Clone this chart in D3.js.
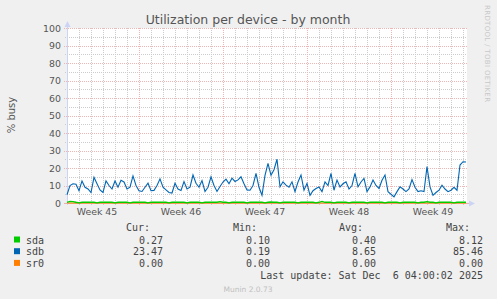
<!DOCTYPE html>
<html>
<head>
<meta charset="utf-8">
<script src="https://cdn.jsdelivr.net/npm/d3@7"></script>
<style>
  body { margin: 0; background: #f0f0f0; }
  svg { display: block; }
</style>
</head>
<body>
<svg width="497" height="299"></svg>
<script>
// samples every 6 hours, from the start of the month window
var stepHours = 6;
var spanHours = 800;

var sda = [
  0.4,0.9,0.8,0.4,0.1,0.4,0.4,0.4,0.4,0.4,
  0.1,0.4,0.4,0.4,0.4,0.4,0.1,0.4,0.4,0.4,
  0.4,0.1,0.4,0.4,0.4,0.4,0.4,0.1,0.4,0.4,
  0.4,0.4,0.4,0.4,0.1,0.4,0.4,0.4,0.4,0.4,
  0.1,0.4,0.4,0.4,0.4,0.1,0.4,0.4,0.4,0.4,
  0.4,0.8,0.4,0.4,0.1,0.4,0.4,0.4,0.4,0.4,
  0.1,0.4,0.4,0.4,0.4,0.4,0.1,0.4,0.6,0.4,
  0.4,0.1,0.4,0.4,0.4,0.4,0.4,0.1,0.4,0.4,
  0.4,0.4,0.4,0.1,0.4,0.9,0.4,0.4,0.4,0.1,
  0.4,0.4,0.4,0.4,0.1,0.4,0.4,0.4,0.4,0.4,
  0.1,0.4,0.4,0.4,0.4,0.4,0.1,0.4,0.4,0.4,
  0.4,0.1,0.4,0.4,0.4,0.4,0.4,0.1,0.4,0.4,
  0.8,0.4,0.4,0.1,0.4,0.4,0.4,0.4,0.4,0.1,
  0.4,0.4,0.4,0.4
];

var sdb = [
  4.7,10,11,10.7,7,12.6,9,8,6,14.7,
  11,7.5,6,12.6,10,8,12.6,9,13,12,
  8,9,15.5,10,7,6.6,9,11.3,7,7.2,
  10,13.8,9,7.5,6,5.7,11.3,8,7.2,12.3,
  8,9,16,11.3,9,12.8,6.6,9,15,10,
  6.6,9.4,12,13.6,11,14.2,12.3,13.2,15,11,
  7.5,7.3,10,16.9,9,4.4,15.8,22.7,15.8,19,
  25,9.2,12.1,10.2,9,12.1,6.5,12,16,7.3,
  11.2,4.4,7,8.3,9.2,6.5,12.1,10,16.9,7.3,
  13.1,9.2,11,12.1,8,10,16.9,9.2,12,14,
  6.5,9.2,13.1,10,8.3,13,16,6.5,5,3.5,
  6.5,9.2,8,6.5,8,13.4,9,6.5,7,6.5,
  20.8,9.2,4.4,6,7.3,10.2,8,6.5,7.3,9,
  7.3,21.7,23.6,23.47
];

var sr0 = sdb.map(function(){ return 0; });

// legend table
var devices = ["sda", "sdb", "sr0"];
var colors  = ["#00cc00", "#0066b3", "#ff8000"];
var curVals = ["0.27", "23.47", "0.00"];
var minVals = ["0.10", "0.19", "0.00"];
var avgVals = ["0.40", "8.65", "0.00"];
var maxVals = ["8.12", "85.46", "0.00"];

// axis labels
var yTicks = [0, 10, 20, 30, 40, 50, 60, 70, 80, 90, 100];
var weekLabels = ["Week 45", "Week 46", "Week 47", "Week 48", "Week 49"];
var weekStarts = [144, 312, 480, 648];   // hours from window start
var weekCenters = [60, 228, 396, 564, 732];

var svg = d3.select("svg");

var x = d3.scaleLinear().domain([0, spanHours]).range([67, 467]);
var y = d3.scaleLinear().domain([0, 100]).range([203, 28]);

var crisp = function(v){ return Math.round(v) + 0.5; };

// plot background
svg.append("rect")
  .attr("x", 67).attr("y", 28)
  .attr("width", 400).attr("height", 175)
  .attr("fill", "#ffffff");

// minor grid: every day, every 5 %
var grid = svg.append("g");
d3.range(24, spanHours + 1, 24).forEach(function(h){
  if (weekStarts.indexOf(h) >= 0) return;
  grid.append("line")
    .attr("x1", crisp(x(h))).attr("x2", crisp(x(h)))
    .attr("y1", 28).attr("y2", 205)
    .attr("stroke", "#cccccc").attr("stroke-dasharray", "1,1");
});
d3.range(5, 100, 10).forEach(function(v){
  grid.append("line")
    .attr("x1", 65).attr("x2", 467)
    .attr("y1", crisp(y(v))).attr("y2", crisp(y(v)))
    .attr("stroke", "#cccccc").attr("stroke-dasharray", "1,1");
});

// major grid
weekStarts.forEach(function(h){
  grid.append("line")
    .attr("x1", crisp(x(h))).attr("x2", crisp(x(h)))
    .attr("y1", 28).attr("y2", 206)
    .attr("stroke", "#efb4b4").attr("stroke-dasharray", "1,1");
});
yTicks.forEach(function(v){
  if (v == 0) return;
  grid.append("line")
    .attr("x1", 64).attr("x2", 467)
    .attr("y1", crisp(y(v))).attr("y2", crisp(y(v)))
    .attr("stroke", "#efb4b4").attr("stroke-dasharray", "1,1");
});

// axes
svg.append("line")
  .attr("x1", 64).attr("x2", 470)
  .attr("y1", crisp(y(0))).attr("y2", crisp(y(0)))
  .attr("stroke", "#eab0b0");
svg.append("line")
  .attr("x1", 67.5).attr("x2", 67.5)
  .attr("y1", 25).attr("y2", 205)
  .attr("stroke", "#ccd4f6");
svg.append("path")
  .attr("d", "M64.5,27 L70.5,27 L67.5,21 Z")
  .attr("fill", "#ccd4f6");
svg.append("path")
  .attr("d", "M469,200.5 L469,206.5 L475,203.5 Z")
  .attr("fill", "#ccd4f6");

// the series, sr0 underneath so it hides on the zero line
var line = d3.line()
  .x(function(d, i){ return x(i * stepHours); })
  .y(function(d){ return y(d); });

[sr0, sdb, sda].forEach(function(s){
  var k = s === sda ? 0 : (s === sdb ? 1 : 2);
  svg.append("path")
    .datum(s)
    .attr("d", line)
    .attr("fill", "none")
    .attr("stroke", colors[k])
    .attr("stroke-width", k == 0 ? 1.4 : 1.1);
});

// tick labels
svg.append("g")
  .selectAll("text")
  .data(yTicks)
  .enter()
  .append("text")
    .attr("x", 61)
    .attr("y", function(d){ return y(d) + 3.5; })
    .attr("text-anchor", "end")
    .attr("font-family", "DejaVu Sans")
    .attr("font-size", "9.4px")
    .attr("fill", "#555")
    .text(function(d){ return d; });

svg.append("g")
  .selectAll("text")
  .data(weekLabels)
  .enter()
  .append("text")
    .attr("x", function(d, i){ return x(weekCenters[i]); })
    .attr("y", 215)
    .attr("text-anchor", "middle")
    .attr("font-family", "DejaVu Sans")
    .attr("font-size", "9.4px")
    .attr("fill", "#555")
    .text(function(d){ return d; });

// title and side texts
svg.append("text")
  .attr("x", 248).attr("y", 24)
  .attr("text-anchor", "middle")
  .attr("font-family", "DejaVu Sans")
  .attr("font-size", "12.5px")
  .attr("fill", "#555")
  .text("Utilization per device - by month");

svg.append("text")
  .attr("transform", "translate(15,115) rotate(-90)")
  .attr("text-anchor", "middle")
  .attr("font-family", "DejaVu Sans")
  .attr("font-size", "10px")
  .attr("fill", "#555")
  .text("% busy");

svg.append("text")
  .attr("transform", "translate(485,5) rotate(90)")
  .attr("text-anchor", "start")
  .attr("font-family", "DejaVu Sans")
  .attr("font-size", "7px")
  .attr("textLength", 97)
  .attr("lengthAdjust", "spacing")
  .attr("fill", "#c8c8c8")
  .text("RRDTOOL / TOBI OETIKER");

// legend
var mono = "DejaVu Sans Mono";
var cols = [
  {head: "Cur:", hx: 150, vx: 163, vals: curVals},
  {head: "Min:", hx: 257, vx: 270, vals: minVals},
  {head: "Avg:", hx: 363, vx: 376, vals: avgVals},
  {head: "Max:", hx: 470, vx: 483, vals: maxVals}
];
var legend = svg.append("g")
  .attr("font-family", mono)
  .attr("font-size", "10px")
  .attr("fill", "#444");

cols.forEach(function(c){
  legend.append("text")
    .attr("x", c.hx).attr("y", 231)
    .attr("text-anchor", "end")
    .text(c.head);
});

devices.forEach(function(d, i){
  var ry = 243.5 + i * 11.7;
  legend.append("rect")
    .attr("x", 14).attr("y", ry - 7)
    .attr("width", 6).attr("height", 6)
    .attr("fill", colors[i]);
  legend.append("text")
    .attr("x", 26).attr("y", ry)
    .text(d);
  cols.forEach(function(c){
    legend.append("text")
      .attr("x", c.vx).attr("y", ry)
      .attr("text-anchor", "end")
      .text(c.vals[i]);
  });
});

legend.append("text")
  .attr("x", 483).attr("y", 279)
  .attr("text-anchor", "end")
  .attr("xml:space", "preserve")
  .style("white-space", "pre")
  .text("Last update: Sat Dec  6 04:00:02 2025");

svg.append("text")
  .attr("x", 248).attr("y", 292)
  .attr("text-anchor", "middle")
  .attr("font-family", "DejaVu Sans")
  .attr("font-size", "7.5px")
  .attr("fill", "#c0c0c0")
  .text("Munin 2.0.73");
</script>
</body>
</html>
